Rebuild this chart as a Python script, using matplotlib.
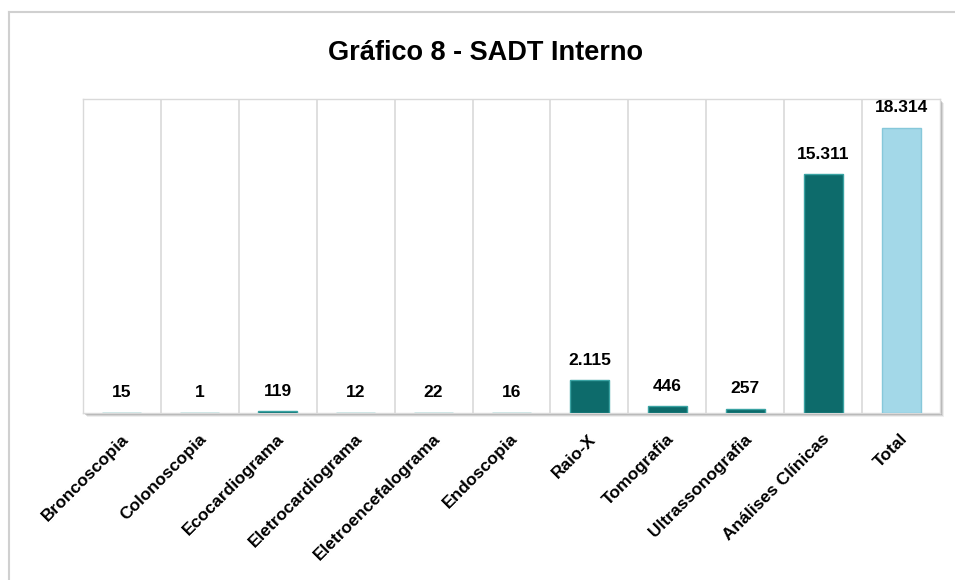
import matplotlib
matplotlib.use("Agg")
import matplotlib.pyplot as plt
from matplotlib.patches import Rectangle
from matplotlib.lines import Line2D
import matplotlib.transforms as mtransforms

categories = ["Broncoscopia", "Colonoscopia", "Ecocardiograma", "Eletrocardiograma",
              "Eletroencefalograma", "Endoscopia", "Raio-X", "Tomografia",
              "Ultrassonografia", "Análises Clínicas", "Total"]
values = [15, 1, 119, 12, 22, 16, 2115, 446, 257, 15311, 18314]
labels = ["15", "1", "119", "12", "22", "16", "2.115", "446", "257", "15.311", "18.314"]

plt.rcParams['font.family'] = ['Liberation Sans', 'DejaVu Sans']

fig = plt.figure(figsize=(9.55, 5.8), dpi=100)
fig.patch.set_facecolor('white')

# outer frame lines (left and top)
fig.add_artist(Line2D([9/955, 9/955], [0, 1 - 12/580], transform=fig.transFigure,
                      color='#D0D0D0', lw=1.5))
fig.add_artist(Line2D([9/955, 1], [1 - 12/580, 1 - 12/580], transform=fig.transFigure,
                      color='#D0D0D0', lw=1.5))

ax_l, ax_r = 83/955, 940/955
ax_b, ax_t = 1 - 413/580, 1 - 99/580
# shadow
for i, a in enumerate([0.10, 0.18, 0.28]):
    off = (4 - i) / 955
    offy = (4 - i) / 580
    fig.add_artist(Rectangle((ax_l + off, ax_b - offy), ax_r - ax_l, ax_t - ax_b,
                             transform=fig.transFigure, facecolor='#606060',
                             alpha=a, edgecolor='none', zorder=0))

ax = fig.add_axes([ax_l, ax_b, ax_r - ax_l, ax_t - ax_b])
ax.set_facecolor('white')
ax.set_zorder(1)

x = list(range(len(categories)))
colors = ['#0D6B6B'] * (len(categories) - 1) + ['#A3D8E8']
edges = ['#3AA3A3'] * (len(categories) - 1) + ['#86C8DA']
ax.bar(x, values, width=0.5, color=colors, edgecolor=edges, linewidth=1.0, zorder=3)

ax.set_xlim(-0.5, len(categories) - 0.5)
ax.set_ylim(0, 20150)
for b in range(1, len(categories)):
    ax.axvline(b - 0.5, color='#D9D9D9', lw=1.2, zorder=1)

for xi, v, lab in zip(x, values, labels):
    ax.annotate(lab, (xi, v), xytext=(0, 9), textcoords='offset points',
                ha='center', va='bottom', fontsize=12.5, fontweight='bold', color='black')

ax.set_yticks([])
ax.set_xticks(x)
ax.set_xticklabels(categories, rotation=45, ha='right', va='center', rotation_mode='anchor',
                   fontsize=12.5, fontweight='bold')
ax.tick_params(axis='x', length=0, pad=17)
shift = mtransforms.ScaledTranslation(4/100, 0, fig.dpi_scale_trans)
for t in ax.get_xticklabels():
    t.set_transform(t.get_transform() + shift)
for s in ax.spines.values():
    s.set_color('#D9D9D9')
    s.set_linewidth(1)

fig.text(485/955, 1 - 53/580, "Gráfico 8 - SADT Interno", ha='center', va='center',
         fontsize=19.5, fontweight='bold')

fig.savefig("out.png", dpi=100, facecolor='white')
